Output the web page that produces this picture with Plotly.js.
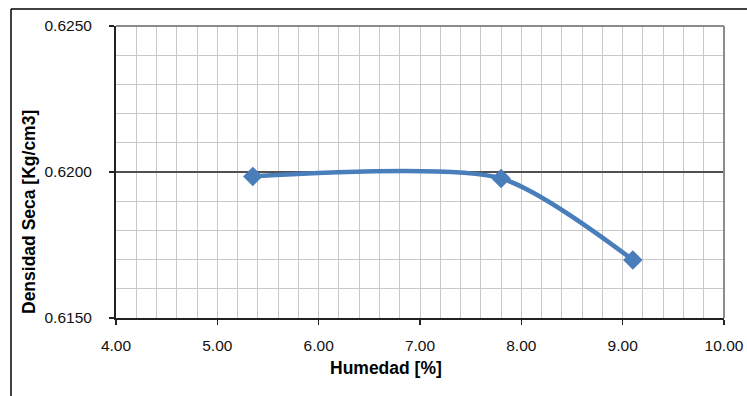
<!DOCTYPE html>
<html>
<head>
<meta charset="utf-8">
<script src="https://cdn.plot.ly/plotly-3.0.1.min.js"></script>
<style>
html,body{margin:0;padding:0;background:#fff;}
#chart{width:747px;height:396px;}
</style>
</head>
<body>
<div id="chart"></div>
<script>
// Data
const humedad = [5.35, 7.80, 9.10];
const densidad = [0.61985, 0.61978, 0.61699];

const xTitle = "Humedad [%]";
const yTitle = "Densidad Seca [Kg/cm3]";

const L = 116, R = 724, T = 26, B = 318, W = 747, H = 396;
const pw = R - L, ph = B - T;
function px(x){ return (x - L) / pw; }
function py(y){ return (B - y) / ph; }

const font = "Liberation Sans, Arial, sans-serif";

const trace = {
  x: humedad,
  y: densidad,
  type: "scatter",
  mode: "lines+markers",
  line: {color: "#4a7ebb", width: 4.5, shape: "spline", smoothing: 0.7},
  marker: {symbol: "diamond", size: 15, color: "#4a7ebb"},
  hoverinfo: "x+y"
};

const layout = {
  width: W, height: H,
  margin: {l: L, r: W - R, t: T, b: H - B},
  paper_bgcolor: "#fff",
  plot_bgcolor: "#fff",
  showlegend: false,
  font: {family: font, size: 15.5, color: "#111"},
  xaxis: {
    range: [4, 10],
    dtick: 1, tick0: 4,
    tickformat: ".2f",
    ticks: "outside", ticklen: 5, tickwidth: 1.5, tickcolor: "#222",
    showline: true, linecolor: "#222", linewidth: 2,
    showgrid: true, gridcolor: "#c8c8c8", gridwidth: 1,
    minor: {dtick: 0.2, showgrid: true, gridcolor: "#c8c8c8", gridwidth: 1},
    zeroline: false,
    ticklabelstandoff: 7,
    fixedrange: true
  },
  yaxis: {
    range: [0.615, 0.625],
    dtick: 0.005, tick0: 0.615,
    tickformat: ".4f",
    ticks: "outside", ticklen: 5, tickwidth: 1.5, tickcolor: "#222",
    showline: true, linecolor: "#222", linewidth: 2,
    showgrid: true, gridcolor: "#505050", gridwidth: 1.5,
    minor: {dtick: 0.001, showgrid: true, gridcolor: "#c8c8c8", gridwidth: 1},
    zeroline: false,
    ticklabelstandoff: 14,
    fixedrange: true
  },
  shapes: [
    // plot area top & right border (gray)
    {type: "line", xref: "paper", yref: "paper", x0: 0, x1: 1, y0: 1, y1: 1,
     line: {color: "#8c8c8c", width: 2}, layer: "above"},
    {type: "line", xref: "paper", yref: "paper", x0: 1, x1: 1, y0: 0, y1: 1,
     line: {color: "#8c8c8c", width: 2}, layer: "above"},
    // outer chart border (top & left)
    {type: "line", xref: "paper", yref: "paper", x0: px(11), x1: px(760), y0: py(9), y1: py(9),
     line: {color: "#000", width: 1.5}},
    {type: "line", xref: "paper", yref: "paper", x0: px(11), x1: px(11), y0: py(9), y1: py(410),
     line: {color: "#000", width: 1.5}}
  ],
  annotations: [
    {text: "<b>" + xTitle + "</b>", xref: "paper", yref: "paper",
     x: px(386), y: py(368), xanchor: "center", yanchor: "middle",
     showarrow: false, font: {family: font, size: 17.5, color: "#000"}},
    {text: "<b>" + yTitle + "</b>", xref: "paper", yref: "paper",
     x: px(29), y: py(212), xanchor: "center", yanchor: "middle", textangle: -90,
     showarrow: false, font: {family: font, size: 17.5, color: "#000"}}
  ]
};

Plotly.newPlot("chart", [trace], layout, {displayModeBar: false, staticPlot: true});
</script>
</body>
</html>
